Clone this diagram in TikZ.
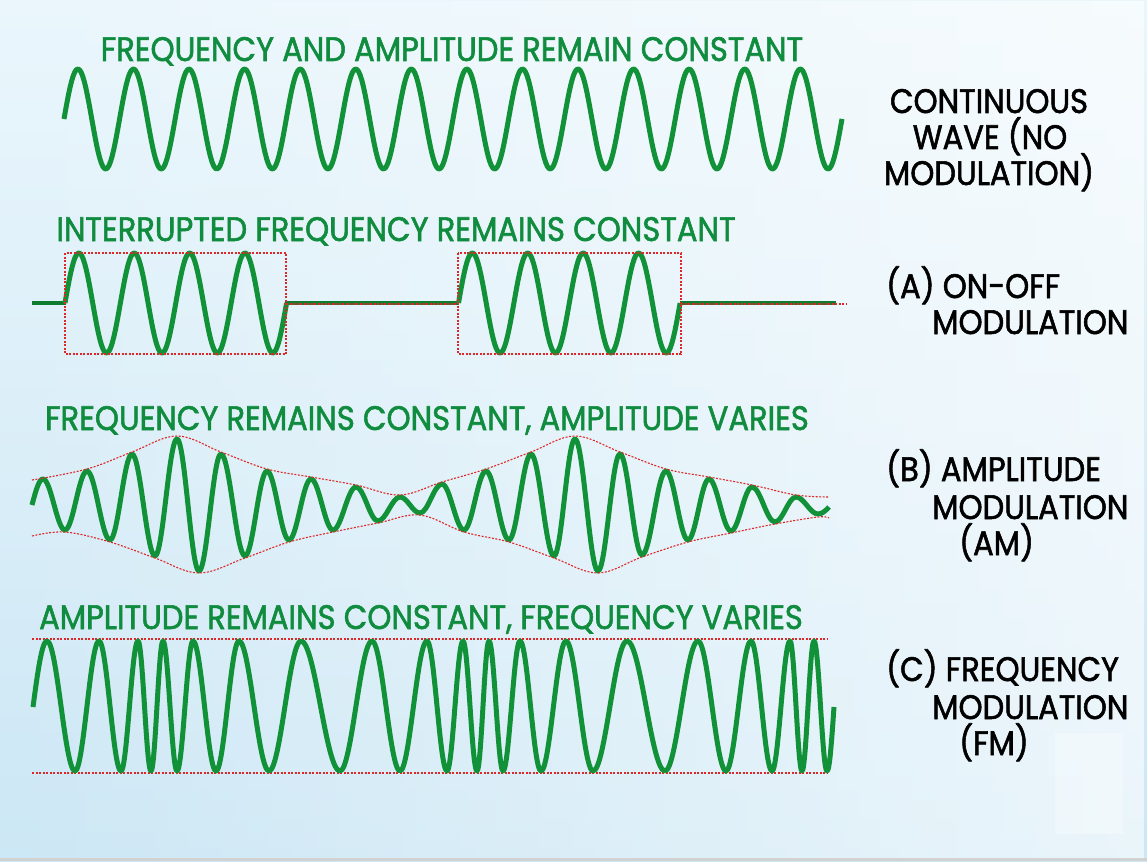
\documentclass[tikz,border=0pt]{standalone}
\usepackage{fontspec}
\setmainfont{Poppins}[FakeStretch=0.90,FakeBold=1.6]
\usetikzlibrary{positioning,fadings}
\definecolor{wavegreen}{RGB}{18,146,56}
\definecolor{titlegreen}{RGB}{16,140,62}
\definecolor{envred}{RGB}{222,40,40}
\definecolor{bgtop}{RGB}{234,246,252}
\definecolor{bgbot}{RGB}{204,231,245}
\tikzfading[name=fadeleft, left color=transparent!100, right color=transparent!0]
\tikzset{
  wave/.style={draw=wavegreen,line width=5pt,line join=round},
  flatline/.style={draw=wavegreen!85!black,line width=4pt},
  envline/.style={draw=envred,line width=1.1pt,dash pattern=on 2pt off 1.5pt},
  headtxt/.style={text=titlegreen,font=\fontsize{34}{38}\selectfont,inner sep=0pt,anchor=base},
  sidetxt/.style={text=black,font=\fontsize{34}{38}\selectfont,inner sep=0pt}
}
\begin{document}
\begin{tikzpicture}[x=1pt,y=-1pt]
  \useasboundingbox (0,0) rectangle (1147,861);
  % background
  \shade[top color=bgtop,bottom color=bgbot] (0,0) rectangle (1147,861);
  \fill[white,path fading=fadeleft,fill opacity=0.6] (0,0) rectangle (1147,861);
  \fill[white,fill opacity=0.3] (1055,733) rectangle (1123,834);
  \draw[gray!35,line width=3pt] (0,859.5) -- (1147,859.5);

  % headings
  \node[headtxt] (headcw) at (452,61) {FREQUENCY AND AMPLITUDE REMAIN CONSTANT};
  \node[headtxt] (headoo) at (396,241) {INTERRUPTED FREQUENCY REMAINS CONSTANT};
  \node[headtxt] (headam) at (427,430) {FREQUENCY REMAINS CONSTANT, AMPLITUDE VARIES};
  \node[headtxt] (headfm) at (421,629) {AMPLITUDE REMAINS CONSTANT, FREQUENCY VARIES};

  % side labels
  \node[sidetxt,anchor=base] (cwa) at (989,113) {CONTINUOUS};
  \node[sidetxt,anchor=base] (cwb) at (990,149) {WAVE (NO};
  \node[sidetxt,anchor=base] (cwc) at (989,185) {MODULATION)};
  \node[sidetxt,anchor=base west] (ooa) at (886,298) {(A) ON-OFF};
  \node[sidetxt,anchor=base west] (oob) at (932,334) {MODULATION};
  \node[sidetxt,anchor=base west] (ama) at (886,481) {(B) AMPLITUDE};
  \node[sidetxt,anchor=base west] (amb) at (932,519) {MODULATION};
  \node[sidetxt,anchor=base west] (amc) at (959,555) {(AM)};
  \node[sidetxt,anchor=base west] (fma) at (886,681) {(C) FREQUENCY};
  \node[sidetxt,anchor=base west] (fmb) at (932,719) {MODULATION};
  \node[sidetxt,anchor=base west] (fmc) at (959,755) {(FM)};

  % continuous wave
  \draw[wave] plot[domain=64:842,samples=500] (\x,{119-50*sin(6.4783*(\x-64))});

  % on-off keyed wave
  \draw[flatline] (32,303) -- (66,303);
  \draw[flatline] (285,303) -- (459,303);
  \draw[flatline] (680,303) -- (836,303);
  \draw[wave] plot[domain=65:286.6,samples=160] (\x,{303-50*sin(6.4982*(\x-65))});
  \draw[wave] plot[domain=458.5:680.1,samples=160] (\x,{303-50*sin(6.4982*(\x-458.5))});
  \draw[envline] (65,253) rectangle (286,354);
  \draw[envline] (458,253) rectangle (681,354);
  \draw[envline] (286,304) -- (458,304);
  \draw[envline] (681,304) -- (847,304);

  % amplitude modulated wave
  \draw[wave] (32,505) .. controls +(3.7,-14) and +(-4,0) .. (43,479)
    \foreach \x/\y [remember=\x as \lastx (initially 43)] in
      {65/530,87/471,110/540,132/454,155/556,177/439,199/571,221/454,245/556,
       267/471,289/540,311/479,333/530,356/487,378/521,400/497,420/513,442/484,
       464/530,486/471,509/540,531/454,554/556,575/439,598/571,620/454,642/555,
       666/471,688/540,709/479,731/531,752/487,775/522,796/497,818/514}
      { .. controls +({0.3634*(\x-\lastx)},0) and +({-0.3634*(\x-\lastx)},0) .. (\x,\y) }
    .. controls +(4,0) and +(-3.7,4) .. (829,507);
  \draw[envline] plot[smooth,tension=0.6] coordinates {(32,480) (87,469) (132,452) (177,436)
    (221,452) (267,469) (311,477) (356,485) (400,495) (442,482) (486,469) (531,452)
    (575,436) (620,452) (666,469) (709,477) (752,485) (796,495) (829,497)};
  \draw[envline] plot[smooth,tension=0.6] coordinates {(32,536) (65,532) (110,542) (155,558)
    (199,573) (245,558) (289,542) (333,532) (378,523) (420,515) (464,532) (509,542)
    (554,558) (598,573) (642,557) (688,542) (731,533) (775,524) (818,517) (829,518)};

  % frequency modulated wave
  \draw[envline] (32,639) -- (828,639);
  \draw[envline] (32,773) -- (828,773);
  \draw[wave] (33,707) .. controls +(4.7,-35) and +(-5.1,0) .. (47,641)
    \foreach \x/\y [remember=\x as \lastx (initially 47)] in
      {75/771,99/641,121/771,138/641,151/771,163/641,177/771,193/641,216/771,
       239/641,269/771,301/641,340/771,372/641,400/771,427/641,447/771,463/641,
       477/771,489/641,503/771,520/641,541/771,566/641,593/771,627/641,665/771,
       698/641,726/771,751/641,772/771,790/641,802/771,814/641,827/771}
      { .. controls +({0.3634*(\x-\lastx)},0) and +({-0.3634*(\x-\lastx)},0) .. (\x,\y) }
    .. controls +(2.6,0) and +(-2.4,34) .. (834,707);
\end{tikzpicture}
\end{document}
